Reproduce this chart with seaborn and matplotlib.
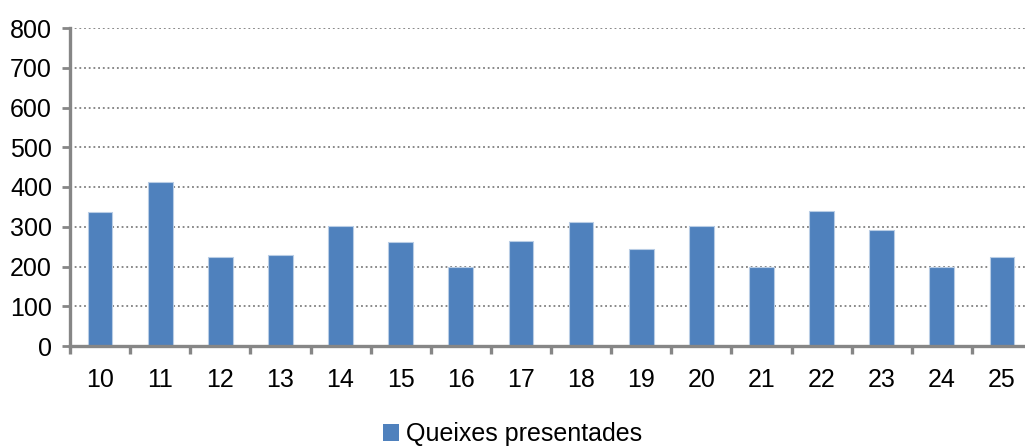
import matplotlib
matplotlib.use("Agg")
import matplotlib.pyplot as plt
import seaborn as sns
import pandas as pd
import numpy as np

# Queixes presentades per any
anys = ["10", "11", "12", "13", "14", "15", "16", "17",
        "18", "19", "20", "21", "22", "23", "24", "25"]
queixes = [337, 412, 224, 229, 301, 262, 198, 265,
           313, 245, 303, 199, 340, 291, 198, 224]
y_ticks = [0, 100, 200, 300, 400, 500, 600, 700, 800]

df = pd.DataFrame({"any": anys, "queixes": queixes})

sns.set_style("white")
plt.rcParams["font.family"] = ["Liberation Sans", "DejaVu Sans"]
plt.rcParams["text.color"] = "black"
plt.rcParams["xtick.color"] = "black"
plt.rcParams["ytick.color"] = "black"

fig = plt.figure(figsize=(10.25, 4.46), dpi=100)
ax = fig.add_axes([70 / 1025, 1 - 346 / 446, 962 / 1025, 318 / 446])

sns.barplot(data=df, x="any", y="queixes", color="#4F81BD", saturation=1,
            width=0.41, edgecolor="#B9CDE5", linewidth=0.8,
            label="Queixes presentades", ax=ax, zorder=3)

ax.set_ylim(0, 800)
ax.set_xlim(-0.5, len(anys) - 0.5)
ax.set_yticks(y_ticks)
ax.set_xlabel("")
ax.set_ylabel("")

# dotted gridlines
for v in y_ticks[1:]:
    ax.axhline(v, color="#7F7F7F", linestyle=(0, (1, 1.6)), linewidth=1.3, zorder=1)

for s in ["top", "right"]:
    ax.spines[s].set_visible(False)
for s in ["left", "bottom"]:
    ax.spines[s].set_color("#868686")
    ax.spines[s].set_linewidth(2.4)
    ax.spines[s].set_zorder(4)

ax.tick_params(axis="y", which="major", left=True, length=6, width=2,
               color="#868686", labelcolor="black", labelsize=18, pad=7)
ax.tick_params(axis="x", which="major", length=0, labelcolor="black",
               labelsize=18, pad=16)
ax.set_xticks(np.arange(-0.5, len(anys), 1.0), minor=True)
ax.tick_params(axis="x", which="minor", bottom=True, length=6, width=2.4,
               color="#868686", direction="out")

leg = ax.legend(loc="lower center", bbox_to_anchor=(0.5, -0.012),
                bbox_transform=fig.transFigure, frameon=False, fontsize=18,
                borderaxespad=0.1, borderpad=0.1,
                handlelength=0.65, handleheight=0.65, handletextpad=0.3)
for t in leg.get_texts():
    t.set_color("black")
for h in leg.legend_handles:
    h.set_edgecolor("none")

fig.savefig("out.png", dpi=100)
